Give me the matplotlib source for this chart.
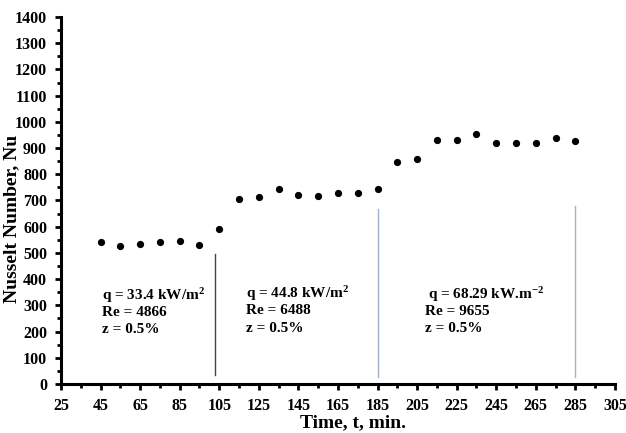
import matplotlib.pyplot as plt

# Data
time_min = [45, 55, 65, 75, 85, 95, 105, 115, 125, 135, 145, 155, 165,
            175, 185, 195, 205, 215, 225, 235, 245, 255, 265, 275, 285]
nusselt = [540, 527, 533, 540, 545, 532, 590, 705, 713, 743, 722, 717, 730,
           727, 745, 845, 860, 930, 930, 955, 918, 918, 918, 937, 925]

# separators between the heat flux stages
sep_x = [103, 185, 285]
sep_top = [495, 668, 680]
sep_bottom = [35, 25, 28]
sep_colors = ['#444444', '#9fb4c8', '#9fb4c8']

# condition labels, one text per line
cond_lines = [
    ["q = 33.4 kW/m$^{2}$", "Re = 4866", "z = 0.5%"],
    ["q = 44.8 kW/m$^{2}$", "Re = 6488", "z = 0.5%"],
    ["q = 68.29 kW.m$^{-2}$", "Re = 9655", "z = 0.5%"],
]
cond_x = [[45.6, 45.6, 45.6], [118.3, 118.3, 118.3], [210.6, 209, 209]]
cond_y = [[337, 272, 209], [346, 280, 212], [342, 278, 210]]

plt.rcParams['font.family'] = 'Liberation Serif'
plt.rcParams['font.weight'] = 'bold'
plt.rcParams['mathtext.fontset'] = 'custom'
plt.rcParams['mathtext.rm'] = 'Liberation Serif:bold'
plt.rcParams['mathtext.it'] = 'Liberation Serif:bold'
plt.rcParams['mathtext.bf'] = 'Liberation Serif:bold'
plt.rcParams['mathtext.default'] = 'rm'

fig = plt.figure(figsize=(6.26, 4.33), dpi=100)
ax = fig.add_axes([0.0974, 0.1132, 0.885, 0.8476])

ax.plot(time_min, nusselt, 'o', color='black', markersize=4.2)

for x, yb, yt, c in zip(sep_x, sep_bottom, sep_top, sep_colors):
    ax.plot([x, x], [yb, yt], color=c, linewidth=1)

for lines, xs, ys in zip(cond_lines, cond_x, cond_y):
    for t, x, y in zip(lines, xs, ys):
        ax.text(x, y, t, fontsize=11, fontweight='bold', va='center', ha='left')

ax.set_xlim(25, 305)
ax.set_ylim(0, 1400)
ax.set_xticks(range(25, 306, 20))
ax.set_xticks(range(35, 306, 20), minor=True)
ax.set_yticks(range(0, 1401, 100))
ax.set_yticks(range(50, 1401, 100), minor=True)

for s in ['top', 'right']:
    ax.spines[s].set_visible(False)
for s in ['left', 'bottom']:
    ax.spines[s].set_linewidth(2.2)

ax.tick_params(which='both', direction='out', width=2, labelsize=11.5)
ax.tick_params(which='major', length=4, pad=6)
ax.tick_params(which='minor', length=3)

fig.text(0.5634, 0.024, "Time, t, min.", fontsize=14, fontweight='bold',
         ha='center', va='center')
fig.text(0.019, 0.4954, "Nusselt Number, Nu", fontsize=14, fontweight='bold',
         ha='center', va='center', rotation=90)

fig.savefig("out.png", dpi=100)
